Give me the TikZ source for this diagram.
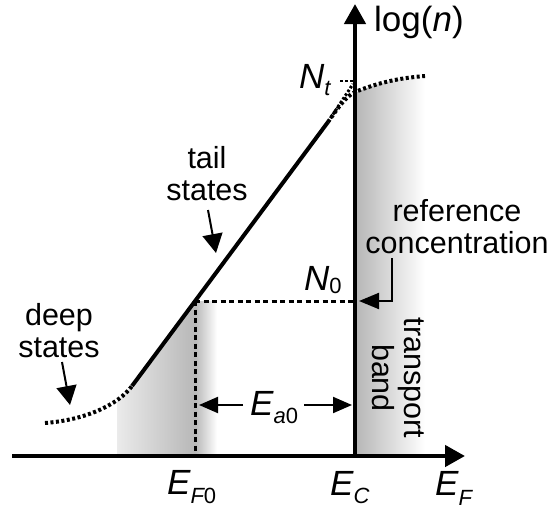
\documentclass[tikz,border=0pt]{standalone}
\usepackage{fontspec}
\setmainfont{Liberation Sans}
\usetikzlibrary{arrows.meta}
\newcommand\mysub[2]{\raisebox{-#1}{\fontsize{22}{22}\selectfont #2}}
\begin{document}
\begin{tikzpicture}[x=1pt,y=-1pt,
  txt/.style={font=\fontsize{30.5}{32}\selectfont, align=center, inner sep=0pt},
  lbl/.style={font=\fontsize{35}{35}\selectfont\itshape, inner sep=0pt, anchor=base west},
  axisline/.style={line width=4.5pt, -{Triangle[length=20pt,width=21pt]}},
  curveline/.style={line width=4pt},
  dotline/.style={line width=4pt, dash pattern=on 3pt off 2.5pt},
  dshline/.style={line width=3pt, dash pattern=on 5pt off 3.5pt},
  arr/.style={line width=2pt, -{Triangle[length=19pt,width=20pt]}},
]
\useasboundingbox (0,0) rectangle (550,512);
% shadings
\shade[left color=black!8, right color=black!28] (117,456) -- (117,402) -- (132,386) -- (195,301) -- (195,456) -- cycle;
\shade[left color=black!28, right color=white] (195,301) -- (217,301) -- (217,456) -- (195,456) -- cycle;
\shade[left color=black!28, right color=white] (357,92) .. controls (380,82) and (400,78) .. (425,76) -- (425,456) -- (357,456) -- cycle;
% coordinates
\coordinate (O) at (355,456);
\coordinate (ytip) at (355,4);
\coordinate (xl) at (12,456);
\coordinate (xtip) at (465,456);
\coordinate (d0) at (45,423);
\coordinate (d1) at (132,386);
\coordinate (t1) at (328,122);
\coordinate (sat) at (355,92);
\coordinate (s1) at (425,76);
\coordinate (ext) at (353,84);
\coordinate (n0) at (195,301);
\coordinate (n0r) at (355,301);
\coordinate (ef0) at (195,456);
% curves
\draw[dotline] (d0) .. controls (85,420) and (118,405) .. (d1);
\draw[curveline] (d1) -- (t1);
\draw[dotline] (t1) .. controls (338,108) and (345,97) .. (sat) .. controls (380,82) and (400,78) .. (s1);
\draw[line width=3pt, dash pattern=on 2.5pt off 2pt] (t1) -- (ext);
\draw[line width=1.8pt, dash pattern=on 3pt off 2pt] (340,81) -- (354,81);
\draw[dshline] (n0) -- (n0r);
\draw[dshline] (n0) -- (ef0);
% axes
\draw[axisline] (xl) -- (xtip);
\draw[axisline] (O) -- (ytip);
% labels
\node[font=\fontsize{35}{35}\selectfont, inner sep=0pt, anchor=base west] (ylab) at (374,31) {log(\textit{n})};
\node[lbl] (Nt) at (299,88) {N\mysub{7pt}{t}};
\node[lbl] (N0) at (304,290) {N\mysub{3pt}{\upshape 0}};
\node[lbl] (EF0) at (167,494) {E\mysub{9pt}{F\upshape 0}};
\node[lbl] (EC) at (330,495) {E\mysub{8pt}{C}};
\node[lbl] (EF) at (435,495) {E\mysub{10pt}{F}};
\node[lbl] (Ea0) at (250,415) {E\mysub{8pt}{a\upshape 0}};
\node[txt] (tail) at (207,174) {tail\\states};
\node[txt] (deep) at (59,331) {deep\\states};
\node[txt] (refc) at (457,227) {reference\\concentration};
\node[txt, rotate=-90] (tb) at (398,378) {transport\\band};
% connectors
\coordinate (ta) at (208,210);
\coordinate (tb2) at (216,253);
\draw[arr] (ta) -- (tb2);
\coordinate (da) at (62,362);
\coordinate (db) at (70,405);
\draw[arr] (da) -- (db);
\coordinate (ea) at (199,405);
\coordinate (eb) at (352,405);
\coordinate (eal) at (243,405);
\coordinate (ear) at (304,405);
\draw[arr, -{Triangle[length=19pt,width=16pt]}] (eal) -- (ea);
\draw[arr, -{Triangle[length=19pt,width=16pt]}] (ear) -- (eb);
\coordinate (rc) at (392,258);
\coordinate (rct) at (359,301);
\draw[arr, -{Triangle[length=20pt,width=16pt]}] (rc) |- (rct);
\end{tikzpicture}
\end{document}
